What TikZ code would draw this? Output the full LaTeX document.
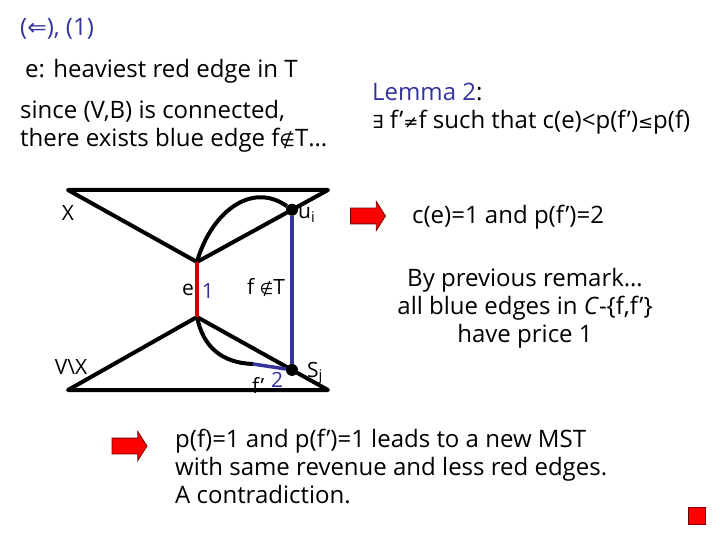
\documentclass[tikz,border=0pt]{standalone}
\usepackage{fontspec}
\setmainfont{Open Sans}
\newfontfamily\symf[Scale=0.75]{DejaVu Sans}
\usepackage{xcolor}
\usepackage{tikz}
\usetikzlibrary{shapes.arrows,calc}
\definecolor{slideblue}{RGB}{51,51,153}
\definecolor{edgered}{RGB}{204,0,0}

\begin{document}
\begin{tikzpicture}[x=1pt, y=-1pt,
  txt/.style={font=\fontsize{24}{28}\selectfont, inner sep=0pt, align=left},
  lbl/.style={font=\fontsize{21}{22}\selectfont, inner sep=1pt},
  cut/.style={line width=4pt, line join=round},
  redE/.style={line width=3.5pt, edgered},
  blueE/.style={line width=3.5pt, slideblue},
  vtx/.style={circle, fill=black, inner sep=0pt, minimum size=12pt},
  pointer/.style={single arrow, draw=red!45!black, fill=red, line width=0.8pt,
                  minimum height=35pt, inner sep=7.5pt,
                  single arrow head extend=6.5pt, single arrow tip angle=115},
  qed/.style={draw=red!45!black, fill=red, line width=0.8pt,
              minimum size=17pt, inner sep=0pt},
]
\useasboundingbox (0,0) rectangle (720,540);

% ================= left column: the setting =================
% (multi-line nodes: base = baseline of their last line)
\node[txt, slideblue, anchor=base west] (hd) at (20,36)
  {({\fontsize{31}{31}\symf ⇐}), (1)};
\node[txt, anchor=base west] (eh) at (25,78) {e: heaviest red edge in T};
\node[txt, anchor=base west] (conn) at (20,147)
  {since (V,B) is connected,\\there exists blue edge f{\symf ∉}T…};

% ================= the cut X / V\X =================
\coordinate (tl) at (68,190);
\coordinate (tr) at (328,190);
\coordinate (et) at (197,262);
\coordinate (eb) at (197,317);
\coordinate (bl) at (68,390);
\coordinate (br) at (328,390);
\coordinate (fp) at (253,364);

% f' sits half under the bottom line
\node[lbl, anchor=west] (fl) at (251,385) {f’};
\node[lbl, slideblue, anchor=west] (two) at (270,380) {2};

\draw[cut] (et) -- (tl) -- (tr) -- cycle;
\draw[cut] (eb) -- (bl) -- (br) -- cycle;

\node[vtx] (ui) at ($(et)!0.725!(tr)$) {};
\node[vtx] (sj) at ($(eb)!0.725!(br)$) {};

\draw[cut] (et) .. controls (210,215) and (250,180) .. (ui);
\draw[cut] (eb) .. controls (203,347) and (222,363) .. (fp);
\draw[blueE] (fp) -- (sj);
\draw[blueE] (ui) -- (sj);
\draw[redE] (et) -- (eb);

\node[lbl] (lx) at (68,213) {X};
\node[lbl] (lvx) at (71,367) {V\textbackslash X};
\node[lbl] (le) at (188,290) {e};
\node[lbl, slideblue] (one) at (208,291) {1};
\node[lbl] (lf) at (266,288) {f {\symf ∉}T};
\node[lbl, anchor=west] (lu) at (297,215) {u$_{\mathrm{i}}$};
\node[lbl, anchor=west] (ls) at (306,373) {S$_{\mathrm{j}}$};

% ================= right column: the conclusion =================
\node[txt, anchor=base west] (lem) at (372,129)
  {\textcolor{slideblue}{Lemma 2}:\\{\symf ∃} f’{\symf ≠}f such that c(e)<p(f’){\symf ≤}p(f)};
\node[pointer] (ar1) at (365.5,216) {};
\node[txt, anchor=base west] (ce) at (412,223) {c(e)=1 and p(f’)=2};
\node[txt, align=center, anchor=base] (rem) at (525,342)
  {By previous remark…\\all blue edges in \textit{C}-\{f,f’\}\\have price 1};

\node[pointer] (ar2) at (127,446) {};
\node[txt, anchor=base west] (mst) at (175,503)
  {p(f)=1 and p(f’)=1 leads to a new MST\\with same revenue and less red edges.\\A contradiction.};
\node[qed] (box) at (697,516) {};

\end{tikzpicture}
\end{document}
